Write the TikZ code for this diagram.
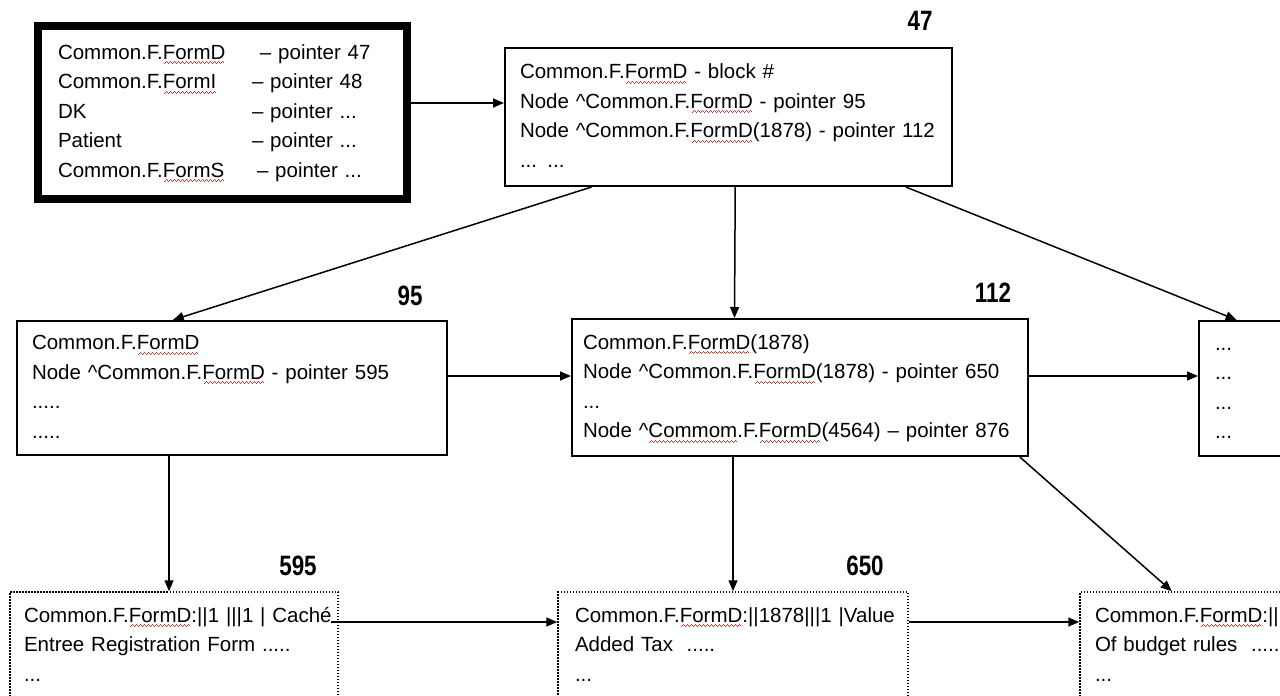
\documentclass[tikz,border=0pt]{standalone}
\usepackage{fontspec}
\setmainfont{Liberation Sans}
\usetikzlibrary{arrows.meta,calc}

\definecolor{spellred}{RGB}{214,48,48}
\newsavebox\spellbox
\newcommand\spellwave{\hbox{\rule[-5pt]{1pt}{1pt}\rule[-4pt]{1pt}{1pt}\rule[-3pt]{1pt}{1pt}\rule[-4pt]{1pt}{1pt}}}
\newcommand\spell[1]{\sbox\spellbox{#1}\rlap{\color{spellred}\hbox to \wd\spellbox{\cleaders\spellwave\hfill}}\usebox\spellbox}

\tikzset{
  box/.style={draw, line width=2pt, inner ysep=0pt, align=left, font=\fontsize{20.5}{29.5}\selectfont},
  dotbox/.style={box, line width=1.5pt, dash pattern=on 1.5pt off 1.5pt},
  numlbl/.style={font=\fontsize{28}{28}\selectfont\bfseries, xscale=0.8, transform shape, inner sep=0pt},
  link/.style={line width=1.5pt, -{Triangle[length=11pt,width=9pt]}}
}

\begin{document}
\begin{tikzpicture}[x=1pt,y=-1pt]
\useasboundingbox (0,0) rectangle (1280,696);
\clip (0,0) rectangle (1280,696);
% index of globals
\node[box, line width=8pt, minimum width=369pt, minimum height=173pt, inner xsep=20pt, text width=329pt] (index) at (222.5,112.5) {\begin{tabular}{@{}p{194pt}@{}l@{}}
Common.F.\spell{FormD} & \hspace{8pt}-- pointer 47\\
Common.F.\spell{FormI} & -- pointer 48\\
DK & -- pointer ...\\
Patient & -- pointer ...\\
Common.F.\spell{FormS} & \hspace{5pt}-- pointer ...
\end{tabular}};
% block 47
\node[box, minimum width=447pt, minimum height=138pt, inner xsep=15pt, text width=417pt] (blk47) at (728.5,117) {\begin{tabular}{@{}l@{}}
Common.F.\spell{FormD} - block \#\\
Node \textasciicircum Common.F.\spell{FormD} - pointer 95\\
Node \textasciicircum Common.F.\spell{FormD}(1878) - pointer 112\\
... ...
\end{tabular}};
\node[numlbl] (n47) at (920,21) {47};
% second level
\node[box, minimum width=430pt, minimum height=134pt, inner xsep=15pt, text width=400pt] (node95) at (232,388) {\begin{tabular}{@{}l@{}}
Common.F.\spell{FormD}\\
Node \textasciicircum Common.F.\spell{FormD} - pointer 595\\
.....\\
.....
\end{tabular}};
\node[numlbl] (n95) at (410,296) {95};
\node[box, minimum width=456pt, minimum height=137pt, inner xsep=11pt, text width=434pt] (node112) at (800,387.5) {\begin{tabular}{@{}l@{}}
Common.F.\spell{FormD}(1878)\\
Node \textasciicircum Common.F.\spell{FormD}(1878) - pointer 650\\
...\\
Node \textasciicircum\spell{Commom}.F.\spell{FormD}(4564) -- pointer 876
\end{tabular}};
\node[numlbl] (n112) at (993,293) {112};
\node[box, minimum width=120pt, minimum height=135pt, inner xsep=16pt, text width=88pt] (nodeR) at (1259,388.5) {\begin{tabular}{@{}l@{}}
...\\
...\\
...\\
...
\end{tabular}};
% leaves
\node[dotbox, minimum width=328pt, minimum height=108pt, inner xsep=14pt, text width=300pt] (leaf595) at (174,646) {\begin{tabular}{@{}l@{}}
Common.F.\spell{FormD}:||1 |||1 | Caché\\
Entree Registration Form .....\\
...
\end{tabular}};
\node[numlbl] (n595) at (298,566) {595};
\node[dotbox, minimum width=350pt, minimum height=108pt, inner xsep=17pt, text width=316pt] (leaf650) at (733,646) {\begin{tabular}{@{}l@{}}
Common.F.\spell{FormD}:||1878|||1 |Value\\
Added Tax\ \ .....\\
...
\end{tabular}};
\node[numlbl] (n650) at (865,566) {650};
\node[dotbox, minimum width=220pt, minimum height=108pt, inner xsep=15pt, text width=190pt] (leafR) at (1190,646) {\begin{tabular}{@{}l@{}}
Common.F.\spell{FormD}:||\\
Of budget rules\ \ .....\\
...
\end{tabular}};
% connectors
\draw[link] ([yshift=9.5pt]index.east) -- ([yshift=9.5pt]index.east -| blk47.west);
\draw[link] ($(blk47.south west)!0.195!(blk47.south east)$) -- ($(node95.north west)!0.363!(node95.north east)$);
\draw[link] ($(blk47.south west)!0.515!(blk47.south east)$) -- ($(node112.north west)!0.357!(node112.north east)$);
\draw[link] ($(blk47.south west)!0.895!(blk47.south east)$) -- ($(nodeR.north west)!0.317!(nodeR.north east)$);
\draw[link] ([yshift=12pt]node95.east) -- ([yshift=12pt]node95.east -| node112.west);
\draw[link] ([yshift=11.5pt]node112.east) -- ([yshift=11.5pt]node112.east -| nodeR.west);
\coordinate (in595) at ([xshift=-5pt]leaf595.north);
\draw[link] (in595 |- node95.south) -- (in595);
\draw[link] (leaf650.north |- node112.south) -- (leaf650.north);
\draw[link] ($(node112.south west)!0.98!(node112.south east)$) -- ($(leafR.north west)!0.418!(leafR.north east)$);
\coordinate (out595) at ([xshift=-8pt,yshift=24pt]leaf595.east);
\draw[link] (out595) -- (out595 -| leaf650.west);
\draw[link] ([yshift=24pt]leaf650.east) -- ([yshift=24pt]leaf650.east -| leafR.west);
\end{tikzpicture}
\end{document}
